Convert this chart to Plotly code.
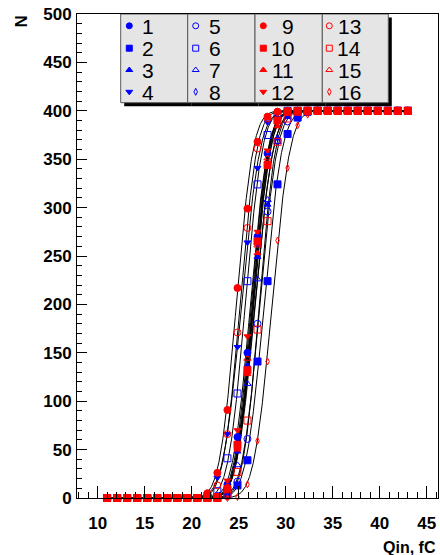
import math
import plotly.graph_objects as go

# ---------------- data ----------------
QIN = [11.00, 12.07, 13.13, 14.20, 15.27, 16.33, 17.40, 18.47, 19.53, 20.60,
       21.67, 22.73, 23.80, 24.87, 25.93, 27.00, 28.07, 29.13, 30.20, 31.27,
       32.33, 33.40, 34.47, 35.53, 36.60, 37.67, 38.73, 39.80, 40.87, 41.93, 43.00]

Z10 = [0, 0, 0, 0, 0, 0, 0, 0, 0, 0]
P9 = [400, 400, 400, 400, 400, 400, 400, 400, 400]

CH1 = Z10 + [0, 2, 14, 63, 150, 270, 356, 391, 399, 400, 400, 400] + P9
CH2 = Z10 + [0, 0, 6, 13, 39, 141, 224, 324, 376, 393, 399, 400] + P9
CH3 = Z10 + [0, 2, 12, 48, 137, 249, 303, 372, 394, 399, 400, 400] + P9
CH4 = Z10 + [4, 21, 66, 156, 264, 341, 388, 397, 400, 400, 400, 400] + P9
CH5 = Z10 + [0, 0, 2, 17, 61, 180, 296, 369, 389, 399, 400, 400] + P9
CH6 = Z10 + [1, 7, 41, 108, 224, 324, 375, 396, 400, 400, 400, 400] + P9
CH7 = Z10 + [0, 1, 10, 34, 118, 226, 308, 368, 394, 399, 400, 400] + P9
CH8 = Z10 + [0, 1, 12, 52, 135, 262, 345, 388, 398, 400, 400, 400] + P9
CH9 = Z10 + [5, 26, 91, 217, 299, 368, 394, 399, 400, 400, 400, 400] + P9
CH10 = Z10 + [0, 1, 9, 55, 132, 265, 344, 390, 399, 400, 400, 400] + P9
CH11 = Z10 + [0, 1, 12, 50, 128, 253, 342, 384, 398, 400, 400, 400] + P9
CH12 = Z10 + [0, 3, 18, 70, 167, 275, 359, 391, 399, 400, 400, 400] + P9
CH13 = Z10 + [3, 13, 66, 171, 279, 361, 392, 399, 400, 400, 400, 400] + P9
CH14 = Z10 + [0, 0, 3, 27, 80, 174, 286, 368, 392, 399, 400, 400] + P9
CH15 = Z10 + [0, 2, 12, 52, 144, 261, 351, 389, 398, 400, 400, 400] + P9
CH16 = Z10 + [0, 0, 0, 1, 14, 59, 141, 266, 341, 385, 396, 400] + P9

CHANNELS = [CH1, CH2, CH3, CH4, CH5, CH6, CH7, CH8,
            CH9, CH10, CH11, CH12, CH13, CH14, CH15, CH16]
LABELS = ["1", "2", "3", "4", "5", "6", "7", "8",
          "9", "10", "11", "12", "13", "14", "15", "16"]

# erf fit parameters (plateau, mean, sigma) per channel
PLATEAU = 400
MU = [26.35, 27.70, 26.70, 25.30, 27.20, 25.70, 26.75, 26.55,
      24.75, 26.50, 26.60, 26.25, 25.15, 27.25, 26.45, 28.55]
SIGMA = [1.40, 1.50, 1.55, 1.55, 1.35, 1.42, 1.50, 1.40,
         1.40, 1.35, 1.40, 1.45, 1.40, 1.45, 1.40, 1.50]

X_TICKS = [10, 15, 20, 25, 30, 35, 40, 45]
Y_TICKS = [0, 50, 100, 150, 200, 250, 300, 350, 400, 450, 500]

# ---------------- style ----------------
BLUE = "#0000ff"
RED = "#ff0000"
SYMBOLS = ["circle", "square", "triangle-up", "triangle-down",
           "circle-open", "square-open", "triangle-up-open", "diamond-tall-open",
           "circle", "square", "triangle-up", "triangle-down",
           "circle-open", "square-open", "triangle-up-open", "diamond-tall-open"]
COLORS = [BLUE] * 8 + [RED] * 8
SIZES = [7, 7, 6, 6, 7, 7, 6.5, 5, 7, 7, 6, 6, 7, 7, 6.5, 5]

# plot area in pixels
L, R, T, B = 77, 438, 14, 498
W, H = 440, 555

fig = go.Figure()

# fit curves (drawn under markers)
xmin, xmax = QIN[0], QIN[-1]
for mu, s in zip(MU, SIGMA):
    xs = [xmin + (xmax - xmin) * i / 800 for i in range(801)]
    ys = [PLATEAU / 2 * (1 + math.erf((x - mu) / (math.sqrt(2) * s))) for x in xs]
    fig.add_trace(go.Scatter(x=xs, y=ys, mode="lines",
                             line=dict(color="black", width=1),
                             hoverinfo="skip", showlegend=False))

# data markers
for i in range(16):
    fig.add_trace(go.Scatter(
        x=QIN, y=CHANNELS[i], mode="markers", showlegend=False,
        cliponaxis=False, name=LABELS[i],
        marker=dict(symbol=SYMBOLS[i], size=SIZES[i], color=COLORS[i],
                    line=dict(color=COLORS[i], width=1))))

# ---------------- legend (4 boxes with shadow) ----------------
def px2paper_x(px):
    return (px - L) / (R - L)

def px2paper_y(py):
    return (B - py) / (B - T)

BOX_X = [120.7, 187.7, 255.0, 322.3, 388.3]
BOX_TOP, BOX_BOT = 14.0, 102.7
SH = 3.5
shapes = []
for c in range(4):
    x0, x1 = BOX_X[c], BOX_X[c + 1]
    shapes.append(dict(type="rect", xref="paper", yref="paper", layer="below",
                       x0=px2paper_x(x0 + SH), x1=px2paper_x(x1 + SH),
                       y0=px2paper_y(BOX_BOT + SH), y1=px2paper_y(BOX_TOP + SH),
                       fillcolor="black", line=dict(width=0)))
    shapes.append(dict(type="rect", xref="paper", yref="paper", layer="below",
                       x0=px2paper_x(x0), x1=px2paper_x(x1),
                       y0=px2paper_y(BOX_BOT), y1=px2paper_y(BOX_TOP),
                       fillcolor="#e5e5e5", line=dict(color="#5a5a5a", width=1)))

MARK_X = [129.3, 195.7, 263.3, 329.3]
TEXT_RIGHT = [156.0, 223.3, 295.5, 363.3]
ROW_Y = [25.8, 48.2, 70.0, 91.8]
LEG_SIZES = [6, 6, 6, 6, 6, 6, 6, 5, 6, 6, 6, 6, 6, 6, 6, 5]

annotations = []
for i in range(16):
    c, r = i // 4, i % 4
    fig.add_trace(go.Scatter(
        x=[MARK_X[c]], y=[ROW_Y[r]], xaxis="x2", yaxis="y2", mode="markers",
        showlegend=False, hoverinfo="skip", cliponaxis=False,
        marker=dict(symbol=SYMBOLS[i], size=LEG_SIZES[i], color=COLORS[i],
                    line=dict(color=COLORS[i], width=1))))
    annotations.append(dict(
        text=LABELS[i], xref="paper", yref="paper",
        x=px2paper_x(TEXT_RIGHT[c]), y=px2paper_y(ROW_Y[r] + 0.5),
        xanchor="right", yanchor="middle", showarrow=False,
        font=dict(family="Liberation Sans", size=21, color="black")))

# axis titles
annotations.append(dict(text="<b>N</b>", xref="paper", yref="paper",
                        x=px2paper_x(21.5), y=px2paper_y(22.0),
                        textangle=-90, showarrow=False,
                        xanchor="center", yanchor="middle",
                        font=dict(family="Liberation Sans", size=17, color="black")))
annotations.append(dict(text="<b>Qin, fC</b>", xref="paper", yref="paper",
                        x=px2paper_x(437.5), y=px2paper_y(547.0),
                        xanchor="right", yanchor="middle", showarrow=False,
                        font=dict(family="Liberation Sans", size=16, color="black")))

tickfont = dict(family="Liberation Sans", size=17, color="black", weight="bold")

fig.update_layout(
    width=W, height=H, autosize=False,
    margin=dict(l=L, r=W - R, t=T, b=H - B, pad=0),
    paper_bgcolor="white", plot_bgcolor="rgba(0,0,0,0)",
    showlegend=False,
    shapes=shapes, annotations=annotations,
    xaxis=dict(range=[7.8, 46.2], tickvals=X_TICKS, ticks="inside", ticklen=12,
               tickwidth=1, tickcolor="black", showline=True, linecolor="black",
               linewidth=1, mirror=True, showgrid=False, zeroline=False,
               tickfont=tickfont, ticklabelstandoff=10,
               minor=dict(dtick=1, ticks="inside", ticklen=6, tickcolor="black",
                          tickwidth=1, showgrid=False)),
    yaxis=dict(range=[0, 500], tickvals=Y_TICKS, ticks="inside", ticklen=10,
               tickwidth=1, tickcolor="black", showline=True, linecolor="black",
               linewidth=1, mirror=True, showgrid=False, zeroline=False,
               tickfont=tickfont, ticklabelstandoff=1,
               minor=dict(dtick=10, ticks="inside", ticklen=5, tickcolor="black",
                          tickwidth=1, showgrid=False)),
    xaxis2=dict(overlaying="x", anchor="y2", range=[L, R], visible=False,
                fixedrange=True),
    yaxis2=dict(overlaying="y", anchor="x2", range=[B, T], visible=False,
                fixedrange=True),
)

fig.write_html("out.html", config={"displayModeBar": False},
               post_script="document.body.style.margin='0px';"
                           "document.body.style.overflow='hidden';")
